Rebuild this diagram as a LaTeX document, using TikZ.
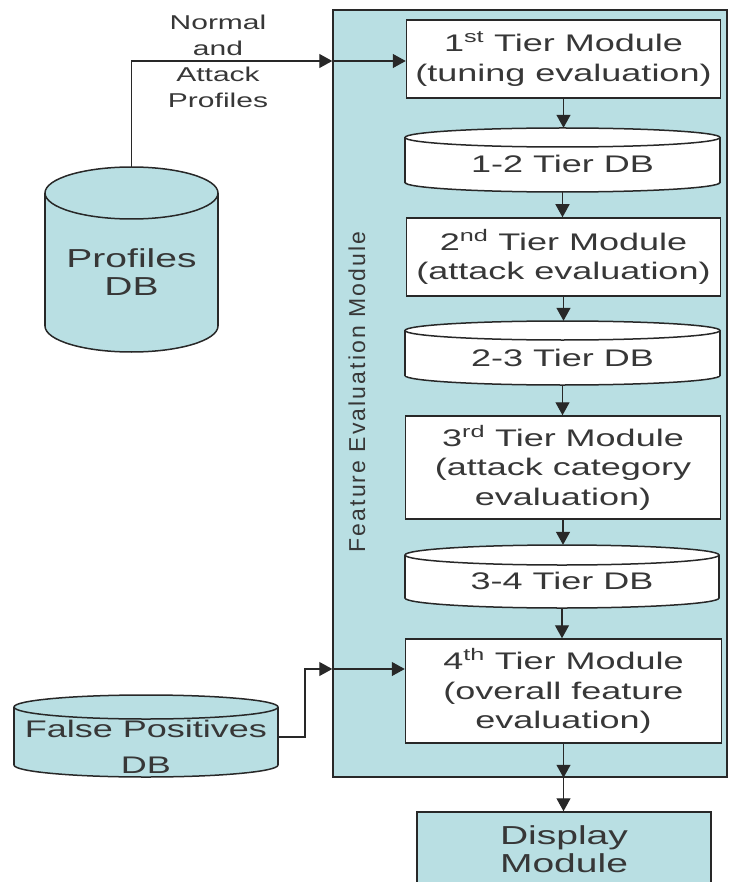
\documentclass[tikz,border=0pt]{standalone}
\usepackage{fontspec}
\setmainfont{Liberation Sans}[FakeStretch=1.5]
\newfontfamily\vfont{Liberation Sans}[LetterSpace=9]
\usetikzlibrary{arrows.meta}
\definecolor{tealfill}{RGB}{185,223,227}
\definecolor{ink}{RGB}{40,40,40}
\definecolor{txt}{RGB}{55,55,55}
\newcommand\dbcyl[6]{%
  \pgfmathsetmacro\cyx{(#1+#2)/2}%
  \pgfmathsetmacro\cyrx{(#2-#1)/2}%
  \pgfmathsetmacro\cyt{#3+#5}%
  \pgfmathsetmacro\cyb{#4-#5}%
  \filldraw[boxline, fill=#6] (\cyx,\cyb) ellipse[x radius=\cyrx, y radius=#5];
  \fill[#6] (#1,\cyt) rectangle (#2,\cyb);
  \draw[boxline] (#1,\cyt) -- (#1,\cyb) (#2,\cyt) -- (#2,\cyb);
  \filldraw[boxline, fill=#6] (\cyx,\cyt) ellipse[x radius=\cyrx, y radius=#5];
}
\begin{document}
\begin{tikzpicture}[x=1pt,y=-1pt,
  boxline/.style={draw=ink, line width=1.5pt},
  modbox/.style={boxline, fill=white, inner sep=0pt, align=center, text=txt,
     font=\fontsize{24}{29.5}\selectfont},
  dbnode/.style={draw=none, inner sep=0pt, align=center, text=txt,
     font=\fontsize{24}{29.5}\selectfont},
  arr/.style={draw=ink, line width=1.3pt, -{Triangle[length=13pt,width=14pt]}},
  ln/.style={draw=ink, line width=1.3pt}]
\useasboundingbox (0,0) rectangle (730,882);
\clip (0,0) rectangle (730,882);

% Feature evaluation module container
\node[boxline, fill=tealfill, minimum width=394pt, minimum height=767pt, inner sep=0pt]
  (fem) at (530,393.5) {};
\node[rotate=90, text=txt, font=\vfont\fontsize{23}{26}\selectfont] (femlabel) at (357,392)
  {Feature Evaluation Module};

% modules
\node[modbox, minimum width=314pt, minimum height=78pt] (t1) at (563.5,59)
  {1\textsuperscript{st} Tier Module\\(tuning evaluation)};
\node[modbox, minimum width=314pt, minimum height=78pt] (t2) at (563.5,257)
  {2\textsuperscript{nd} Tier Module\\(attack evaluation)};
\node[modbox, minimum width=315pt, minimum height=103pt] (t3) at (563,467.5)
  {3\textsuperscript{rd} Tier Module\\(attack category\\evaluation)};
\node[modbox, minimum width=316pt, minimum height=104pt] (t4) at (563.5,691)
  {4\textsuperscript{th} Tier Module\\(overall feature\\evaluation)};
\node[modbox, fill=tealfill, minimum width=294pt, minimum height=74pt,
  font=\fontsize{26}{28}\selectfont] (disp) at (564,849)
  {Display\\Module};

% databases
\dbcyl{405}{720}{128}{192}{9.5}{white}
\node[dbnode, minimum width=315pt, minimum height=64pt, text height=26pt, text depth=0pt] (db12) at (562.5,160) {1-2 Tier DB};
\dbcyl{405}{720}{321}{385}{9.5}{white}
\node[dbnode, minimum width=315pt, minimum height=64pt, text height=26pt, text depth=0pt] (db23) at (562.5,353) {2-3 Tier DB};
\dbcyl{405}{719}{545}{608}{10}{white}
\node[dbnode, minimum width=314pt, minimum height=63pt, text height=26pt, text depth=0pt] (db34) at (562,576.5) {3-4 Tier DB};

\dbcyl{45}{218}{167}{352}{26}{tealfill}
\node[dbnode, minimum width=173pt, minimum height=185pt, text height=71pt, text depth=0pt,
  font=\fontsize{26}{28}\selectfont]
  (prof) at (131.5,259.5) {Profiles\\DB};
\dbcyl{14}{278}{695}{777}{12}{tealfill}
\node[dbnode, minimum width=264pt, minimum height=82pt, text height=72pt, text depth=0pt,
  font=\fontsize{24}{36}\selectfont]
  (fp) at (146,737) {False Positives\\DB};

% label
\node[align=center, text=txt, font=\fontsize{20}{26}\selectfont] (lbl) at (218,61)
  {Normal\\and\\Attack\\Profiles};

% connectors
\draw[arr] (t1.south) -- (t1.south |- db12.north);
\draw[arr] (db12.south) -- (db12.south |- t2.north);
\draw[arr] (t2.south) -- (t2.south |- db23.north);
\draw[arr] (db23.south) -- (db23.south |- t3.north);
\draw[arr] (t3.south) -- (t3.south |- db34.north);
\draw[arr] (db34.south) -- (db34.south |- t4.north);
\coordinate (femout) at (t4.south |- fem.south);
\draw[arr] (t4.south) -- (femout);
\draw[arr] (femout) -- (femout |- disp.north);

\coordinate (pin) at (fem.west |- 0,61);
\draw[arr] (prof.north) |- (pin);
\draw[arr] (pin) -- (t1.west |- pin);

\coordinate (fpin) at (fem.west |- 0,669);
\coordinate (fpbend) at (305,737);
\draw[arr] (fp.east) -- (fpbend) |- (fpin);
\draw[arr] (fpin) -- (t4.west |- fpin);
\end{tikzpicture}
\end{document}
